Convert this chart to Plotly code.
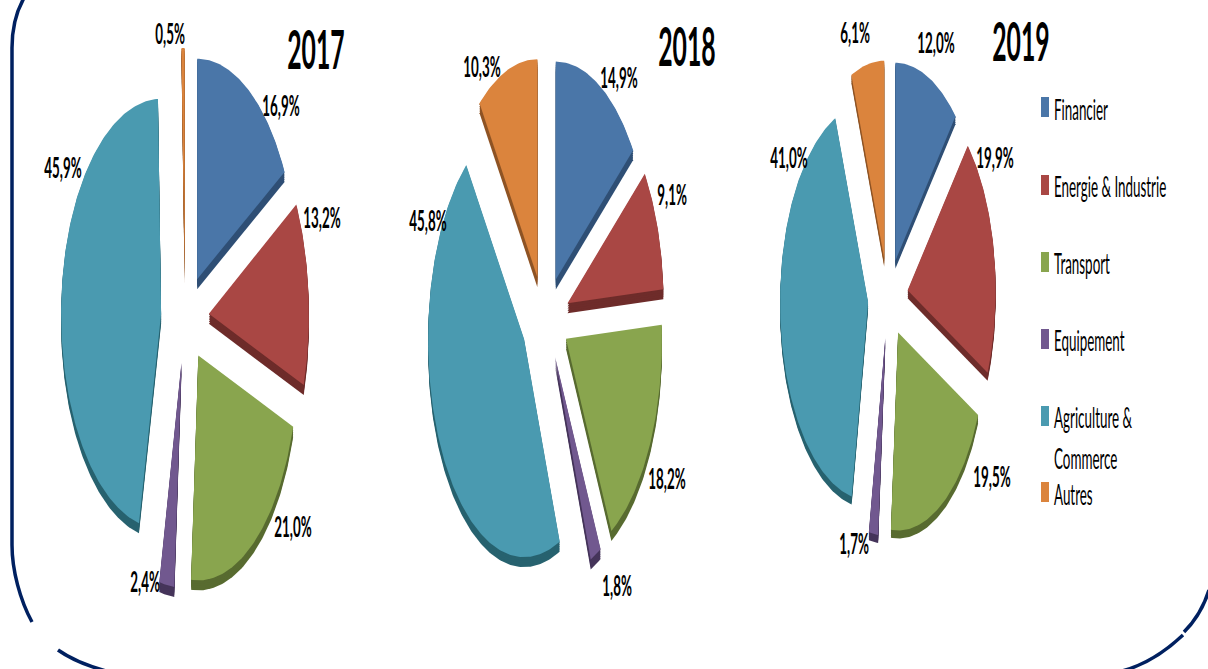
import numpy as np
import plotly.graph_objects as go

W, H = 1208, 669
FONT = "Lato"

# ---- data -------------------------------------------------------------
categories = ["Financier", "Energie & Industrie", "Transport", "Equipement",
              "Agriculture & Commerce", "Autres"]
legend_lines = ["Financier", "Energie & Industrie", "Transport", "Equipement",
                "Agriculture &", "Commerce", "Autres"]
years = ["2017", "2018", "2019"]
values_2017 = [16.9, 13.2, 21.0, 2.4, 45.9, 0.5]
values_2018 = [14.9, 9.1, 18.2, 1.8, 45.8, 10.3]
values_2019 = [12.0, 19.9, 19.5, 1.7, 41.0, 6.1]
series = [values_2017, values_2018, values_2019]

# ---- style / layout ----------------------------------------------------
colors = ["#4A76A8", "#A94744", "#89A54E", "#71588F", "#4A9AB0", "#DB843D"]
sides = ["#2F4F75", "#6E2C2A", "#586B30", "#45345A", "#27626F", "#8F5425"]
navy = "#002060"

# centre x, centre y, radius x, radius y, pull x, pull y, depth
pie_geometry = [
    (185, 318, 100, 225, 24, 45, 10),
    (545, 318, 96, 218, 24, 43, 10),
    (888, 298, 88, 198, 20, 40, 8),
]
# vertical radius factor per slice (the source's perspective shortens some)
slice_scale = [
    [0.98, 1, 1, 1, 0.955, 1],
    [1, 1, 1, 1, 1, 1],
    [1, 1, 1, 1, 1, 1],
]
label_positions = [
    [(281, 105), (322, 217), (293, 526), (145, 581), (63, 167), (170, 33)],
    [(619, 77), (672, 194), (667, 478), (617, 585), (428, 220), (482, 66)],
    [(936, 42), (995, 157), (992, 476), (854, 543), (789, 157), (855, 32)],
]
year_positions = [(316, 48), (687, 45), (1021, 40)]
legend_text_y = [109, 186, 263, 340, 417, 458, 494]
legend_swatch_y = [107, 185, 262, 339, 416, 492]


def wedge(t0, t1, geom, shift=0, k=1):
    """Exploded elliptical slice; t0, t1 in degrees clockwise from 12 o'clock."""
    cx, cy, rx, ry, px, py, _ = geom
    mid = np.radians((t0 + t1) / 2)
    ax = cx + px * np.sin(mid)
    ay = cy - py * np.cos(mid) + shift
    t = np.radians(np.linspace(t0, t1, max(int(t1 - t0) + 2, 3)))
    xs = np.concatenate([[ax], ax + rx * np.sin(t), [ax]])
    ys = np.concatenate([[ay], ay - k * ry * np.cos(t), [ay]])
    return xs, ys


fig = go.Figure()
annotations = []

for vals, geom, scale in zip(series, pie_geometry, slice_scale):
    edges = np.concatenate([[0], np.cumsum(vals)]) / sum(vals) * 360
    depth = geom[6]
    # the extruded side is the slice seen again, shifted down
    for i in range(len(vals)):
        for s in np.linspace(depth, 1, 5):
            xs, ys = wedge(edges[i], edges[i + 1], geom, shift=s, k=scale[i])
            fig.add_trace(go.Scatter(x=xs, y=ys, mode="lines", fill="toself",
                                     fillcolor=sides[i], line=dict(width=0, color=sides[i]),
                                     hoverinfo="skip", showlegend=False))
    for i, cat in enumerate(categories):
        xs, ys = wedge(edges[i], edges[i + 1], geom, k=scale[i])
        fig.add_trace(go.Scatter(x=xs, y=ys, mode="lines", fill="toself",
                                 fillcolor=colors[i], line=dict(width=0, color=colors[i]),
                                 name=cat, hoverinfo="name", showlegend=False))

for vals, poss in zip(series, label_positions):
    for v, (x, y) in zip(vals, poss):
        annotations.append(dict(x=x, y=y, text=f"<b>{v:.1f}</b>".replace(".", ",").replace("</b>", "%</b>"),
                                showarrow=False, font=dict(family=FONT, size=20, color="#000")))
for yr, (x, y) in zip(years, year_positions):
    annotations.append(dict(x=x, y=y, text=f"<b>{yr}</b>", showarrow=False,
                            font=dict(family=FONT, size=37, color="#000")))
n_centered = len(annotations)
for line, y in zip(legend_lines, legend_text_y):
    annotations.append(dict(x=1052, y=y, text=line, showarrow=False, xanchor="left", align="left",
                            font=dict(family=FONT, size=20, color="#000")))

shapes = []
for col, y in zip(colors, legend_swatch_y):
    shapes.append(dict(type="rect", xref="x", yref="y", x0=1041, x1=1049, y0=y - 10, y1=y + 10,
                       fillcolor=col, line_width=0))
frame = dict(color=navy, width=3.5)
shapes += [
    dict(type="path", xref="x", yref="y", line=frame,
         path="M 24 -2 C 16 12 12 28 12 48 L 12 545 C 12 570 20 600 32 622"),
    dict(type="path", xref="x", yref="y", line=frame,
         path="M 58 650 C 72 660 88 666 106 671"),
    dict(type="path", xref="x", yref="y", line=frame,
         path="M 1122 671 C 1145 665 1165 652 1183 635"),
    dict(type="path", xref="x", yref="y", line=frame,
         path="M 1184 632 C 1196 620 1204 606 1209 590"),
]

fig.update_layout(
    width=W, height=H, margin=dict(l=0, r=0, t=0, b=0),
    paper_bgcolor="white", plot_bgcolor="white", showlegend=False,
    xaxis=dict(range=[0, W], visible=False, fixedrange=True),
    yaxis=dict(range=[H, 0], visible=False, fixedrange=True),
    annotations=annotations, shapes=shapes,
)

# the source text is a strongly condensed, tall face: scale the live text
post = """
document.documentElement.style.margin='0';
document.body.style.margin='0';
function squeeze(){
  var n=%d, sx=0.67, sy=1.42;
  document.querySelectorAll('.annotation').forEach(function(a,i){
    var t=a.querySelector('text.annotation-text');
    if(!t||t.dataset.sq) return;
    var b=t.getBBox();
    var ox=i<n? b.x+b.width/2 : b.x, oy=b.y+b.height/2;
    t.setAttribute('transform','translate('+ox+','+oy+') scale('+sx+','+sy+') translate('+(-ox)+','+(-oy)+')');
    t.dataset.sq='1';
  });
}
squeeze(); setTimeout(squeeze,60); setTimeout(squeeze,300);
""" % n_centered

fig.write_html("out.html", post_script=post, config={"displayModeBar": False})
